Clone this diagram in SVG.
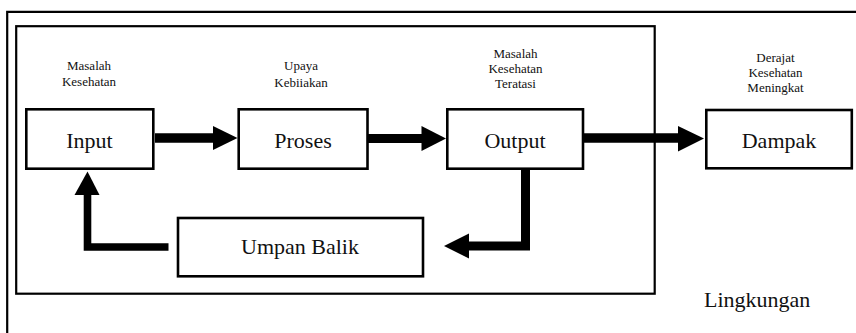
<svg xmlns="http://www.w3.org/2000/svg" width="856" height="333" viewBox="0 0 856 333">
  <style>
    .frame { fill: none; stroke: #000; stroke-width: 2.2; }
    .box { fill: #fff; stroke: #000; stroke-width: 2.6; }
    .label { font-family: "Liberation Serif", "Times New Roman", serif; font-size: 22px; fill: #111; text-anchor: middle; }
    .note { font-family: "Liberation Serif", "Times New Roman", serif; font-size: 13px; fill: #111; text-anchor: middle; }
    .shaft { fill: none; stroke: #000; stroke-linejoin: miter; stroke-linecap: butt; }
    .head { fill: #000; }
  </style>

  <rect width="856" height="333" fill="#fff"/>

  <!-- environment boundary (open to the right and bottom) -->
  <path id="lingkungan-frame" class="frame" d="M7.2,333 V11.8 H856"/>
  <!-- system boundary -->
  <rect id="sistem-frame" class="frame" x="16.2" y="26.2" width="638.5" height="267.5" stroke-width="2.5"/>

  <!-- connectors -->
  <g id="connectors">
    <!-- Input to Proses -->
    <line class="shaft" x1="155" y1="138" x2="214" y2="138" stroke-width="9.4"/>
    <polygon class="head" points="213,126 237.5,138 213,150"/>
    <!-- Proses to Output -->
    <line class="shaft" x1="367" y1="138.5" x2="422" y2="138.5" stroke-width="9"/>
    <polygon class="head" points="421.5,126 446,138.5 421.5,151"/>
    <!-- Output to Dampak -->
    <line class="shaft" x1="584" y1="138" x2="679" y2="138" stroke-width="9.4"/>
    <polygon class="head" points="678,126 704,138.5 678,151.5"/>
    <!-- Output down to Umpan Balik -->
    <polyline class="shaft" points="525.5,169 525.5,246 468,246" stroke-width="9"/>
    <polygon class="head" points="469,233.5 444,246 469,258.5"/>
    <!-- Umpan Balik back up to Input -->
    <polyline class="shaft" points="168.5,247 87.5,247 87.5,194" stroke-width="7.6"/>
    <polygon class="head" points="74.5,195 87.5,171.5 99.5,195"/>
  </g>

  <g id="input">
    <rect class="box" x="26.3" y="109.3" width="127" height="59.4"/>
    <text class="label" x="89.5" y="147.5">Input</text>
    <text class="note" x="89" y="70">Masalah</text>
    <text class="note" x="89" y="86">Kesehatan</text>
  </g>

  <g id="proses">
    <rect class="box" x="238.7" y="109.3" width="128.8" height="59.4"/>
    <text class="label" x="303" y="147.5">Proses</text>
    <text class="note" x="301" y="70">Upaya</text>
    <text class="note" x="301" y="86.5">Kebiiakan</text>
  </g>

  <g id="output">
    <rect class="box" x="447.3" y="109.3" width="135.7" height="59.4"/>
    <text class="label" x="515" y="147.5">Output</text>
    <text class="note" x="515.5" y="58">Masalah</text>
    <text class="note" x="515.5" y="73">Kesehatan</text>
    <text class="note" x="515.5" y="88">Teratasi</text>
  </g>

  <g id="dampak">
    <rect class="box" x="706.3" y="110" width="145.5" height="58.3"/>
    <text class="label" x="779" y="147.5">Dampak</text>
    <text class="note" x="775.5" y="61.5">Derajat</text>
    <text class="note" x="775.5" y="76.5">Kesehatan</text>
    <text class="note" x="775.5" y="91.5">Meningkat</text>
  </g>

  <g id="umpan-balik">
    <rect class="box" x="178" y="218" width="245" height="58.3"/>
    <text class="label" x="300" y="253.5">Umpan Balik</text>
  </g>

  <g id="lingkungan">
    <text class="label" x="704" y="307" style="text-anchor: start">Lingkungan</text>
  </g>
</svg>
